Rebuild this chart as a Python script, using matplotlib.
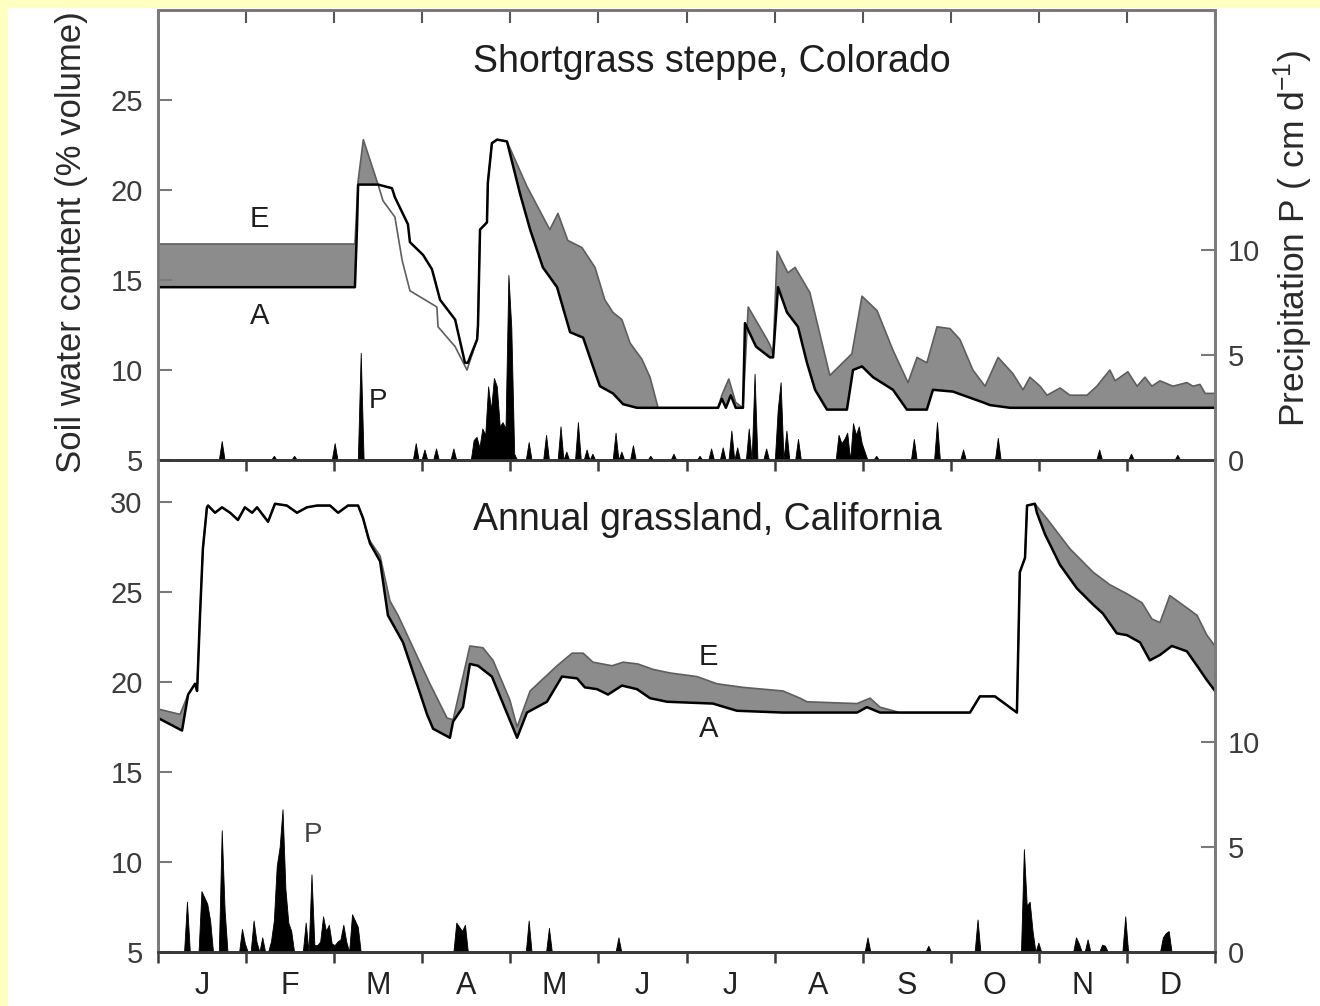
import numpy as np
import matplotlib
matplotlib.use("Agg")
import matplotlib.pyplot as plt
from matplotlib.patches import Rectangle

plt.rcParams['font.family'] = ['Liberation Sans', 'DejaVu Sans']
plt.rcParams['mathtext.default'] = 'regular'

months = ['J', 'F', 'M', 'A', 'M', 'J', 'J', 'A', 'S', 'O', 'N', 'D']

# Shortgrass steppe, Colorado -- soil water content (% volume), day of year
co_e_day = [0, 68.0, 69.1, 70.9, 76.0, 77.7, 81.8, 84.3, 87.0, 92.2, 96.3, 96.7, 102.6,
            106.7, 110.2, 110.5, 111.2, 113.6, 113.9, 115.3, 117.1, 120.5, 127.4, 135.3,
            138.1, 141.5, 146.4, 150.9, 154.3, 157.1, 160.2, 163.0, 167.1, 169.9, 172.7,
            193.4, 194.7, 197.1, 199.5, 202.0, 203.8, 210.3, 211.3, 212.4, 213.8, 217.5,
            220.0, 225.1, 232.0, 239.6, 243.1, 248.3, 253.8, 259.0, 262.1, 265.5, 269.0,
            273.5, 276.9, 281.4, 285.6, 290.1, 295.2, 298.7, 301.1, 304.6, 307.0, 311.5,
            314.9, 320.8, 324.2, 328.7, 330.5, 334.9, 338.1, 340.8, 343.2, 346.0, 350.5,
            355.3, 357.4, 359.8, 361.6, 365]
co_e = [17.0, 17.0, 20.5, 22.8, 20.3, 19.4, 18.5, 16.1, 14.4, 13.9, 13.5, 12.4, 11.3,
        10.0, 11.7, 12.5, 17.8, 18.2, 20.4, 22.6, 22.8, 22.7, 20.2, 17.8,
        18.7, 17.2, 16.8, 15.7, 13.9, 13.2, 12.8, 11.5, 10.6, 9.6, 7.9,
        7.9, 8.6, 9.5, 8.2, 7.9, 13.5, 11.7, 11.4, 10.9, 16.6, 15.4,
        15.7, 14.3, 9.7, 10.9, 14.1, 13.3, 11.1, 9.3, 10.7, 10.4, 12.4,
        12.3, 11.7, 10.0, 9.1, 10.7, 9.8, 8.9, 9.6, 9.1, 8.6, 9.0,
        8.6, 8.6, 9.1, 10.0, 9.4, 9.9, 9.1, 9.6, 9.1, 9.4, 9.1,
        9.3, 9.1, 9.2, 8.7, 8.7]

co_a_day = [0, 68.0, 68.7, 69.1, 76.0, 80.8, 81.8, 86.3, 87.0, 91.5, 94.6, 97.4, 102.6,
            104.3, 106.0, 107.0, 110.2, 110.5, 111.2, 113.6, 113.9, 115.3, 117.1, 120.5,
            125.0, 128.5, 132.9, 137.8, 142.3, 146.8, 150.2, 152.6, 157.1, 160.6, 165.4,
            193.4, 194.7, 196.1, 197.8, 199.5, 202.0, 202.7, 206.5, 211.3, 212.4, 214.1,
            217.2, 221.0, 224.1, 226.9, 231.0, 237.9, 240.0, 243.1, 246.9, 253.8, 258.6,
            265.5, 267.6, 274.5, 279.7, 284.9, 287.3, 294.2, 365]
co_a = [14.6, 14.6, 17.8, 20.3, 20.3, 20.1, 19.6, 18.1, 17.1, 16.4, 15.6, 13.9, 12.8,
        11.6, 10.4, 10.4, 11.7, 12.5, 17.8, 18.2, 20.4, 22.6, 22.8, 22.7,
        19.8, 17.8, 15.7, 14.6, 12.1, 11.8, 10.2, 9.1, 8.7, 8.1, 7.9,
        7.9, 8.4, 7.9, 8.6, 7.9, 7.9, 12.6, 11.3, 10.7, 10.7, 14.6,
        13.2, 12.4, 10.4, 8.9, 7.8, 7.8, 10.0, 10.2, 9.6, 8.9, 7.8,
        7.8, 8.9, 8.8, 8.5, 8.2, 8.05, 7.9, 7.9]

# daily precipitation (cm/d), Colorado
co_p_day = [22, 40, 47, 61, 70, 89, 92, 96, 102, 109, 110, 111, 112, 113, 114, 115, 116,
            117, 118, 119, 120, 121, 122, 123, 128, 134, 139, 141, 145, 148, 150, 158, 160,
            164, 170, 178, 187, 191, 195, 198, 200, 204, 206, 210, 214, 215, 217, 221, 235,
            236, 237, 238, 240, 241, 242, 243, 244, 248, 261, 269, 278, 290, 325, 336, 352]
co_p = [0.9, 0.2, 0.2, 0.8, 5.1, 0.8, 0.5, 0.55, 0.55, 0.95, 1.1, 0.6, 1.5, 1.2, 3.5, 2.4,
        3.9, 3.5, 1.6, 1.8, 1.5, 8.8, 6.3, 0.3, 0.85, 1.2, 1.6, 0.4, 1.8, 0.5, 0.3, 1.3, 0.4,
        0.7, 0.2, 0.3, 0.2, 0.55, 0.6, 1.4, 0.6, 1.5, 4.1, 0.55, 2.4, 3.7, 1.4, 1.0, 1.2,
        0.8, 1.0, 1.3, 1.75, 1.2, 1.6, 0.8, 0.4, 0.2, 1.0, 1.8, 0.5, 1.05, 0.5, 0.3, 0.25]

# Annual grassland, California
ca_e_day = [0, 7.6, 10.4, 12.8, 13.5, 14.5, 15.5, 16.9, 17.3, 19.7, 22.1, 24.9, 27.6,
            30.0, 32.5, 34.2, 38.0, 40.4, 44.5, 48.0, 51.4, 54.9, 59.4, 62.2, 65.6, 69.1,
            70.8, 72.5, 76.7, 80.1, 82.9, 93.9, 99.8, 101.9, 105.3, 107.7, 112.2, 115.7,
            121.5, 124.0, 128.5, 137.8, 143.0, 146.8, 150.2, 156.8, 160.6, 165.7, 170.9,
            176.8, 186.1, 193.0, 202.0, 215.8, 221.7, 224.1, 241.4, 245.9, 249.3, 256.2,
            280.4, 283.8, 289.0, 296.6, 297.6, 299.4, 300.1, 302.8, 307.3, 314.9, 322.9,
            328.7, 334.6, 339.8, 343.2, 346.0, 349.4, 356.3, 358.8, 362.2, 365]
ca_e = [18.5, 18.2, 19.3, 19.9, 19.5, 23.7, 27.4, 29.7, 29.8, 29.4, 29.7, 29.4, 29.0,
        29.7, 29.4, 29.7, 28.9, 29.9, 29.8, 29.4, 29.7, 29.8, 29.8, 29.4, 29.8, 29.8,
        29.1, 28.0, 27.0, 24.5, 23.7, 19.9, 18.0, 17.9, 20.3, 22.0, 21.9, 21.2,
        19.0, 17.5, 19.5, 20.9, 21.6, 21.6, 21.1, 20.9, 21.1, 21.0, 20.7,
        20.5, 20.3, 19.9, 19.7, 19.5, 19.1, 18.9, 18.8, 19.1, 18.6, 18.3,
        18.3, 19.2, 19.2, 18.3, 26.1, 26.9, 29.8, 29.9, 29.0, 27.4, 26.1,
        25.4, 24.9, 24.4, 23.5, 23.3, 24.8, 24.0, 23.7, 22.6, 22.0]

ca_a_day = [0, 8.3, 10.4, 12.8, 13.5, 14.5, 15.5, 16.9, 17.3, 19.7, 22.1, 24.9, 27.6,
            30.0, 32.5, 34.2, 38.0, 40.4, 44.5, 48.0, 51.4, 54.9, 59.4, 62.2, 65.6, 69.1,
            70.8, 73.2, 76.7, 79.4, 84.6, 89.4, 92.9, 95.0, 100.8, 101.9, 105.3, 107.7,
            110.5, 115.3, 124.0, 127.4, 134.3, 139.5, 144.7, 147.4, 151.6, 155.4, 160.2,
            165.4, 169.9, 175.8, 191.6, 199.9, 215.8, 241.4, 244.8, 249.3, 280.4, 283.8,
            289.0, 296.6, 297.6, 299.4, 300.1, 302.8, 303.5, 306.3, 311.5, 317.3, 322.9,
            326.3, 331.1, 334.6, 339.1, 342.5, 346.0, 350.1, 355.3, 358.8, 362.2, 365]
ca_a = [18.0, 17.3, 19.3, 19.9, 19.5, 23.7, 27.4, 29.7, 29.8, 29.4, 29.7, 29.4, 29.0,
        29.7, 29.4, 29.7, 28.9, 29.9, 29.8, 29.4, 29.7, 29.8, 29.8, 29.4, 29.8, 29.8,
        29.1, 27.7, 26.7, 23.7, 22.2, 19.9, 18.2, 17.4, 16.9, 17.8, 18.6, 21.0,
        20.9, 20.3, 16.9, 18.3, 18.9, 20.3, 20.2, 19.7, 19.6, 19.3, 19.8,
        19.6, 19.1, 18.9, 18.8, 18.4, 18.3, 18.3, 18.6, 18.3, 18.3, 19.2,
        19.2, 18.3, 26.1, 26.9, 29.8, 29.9, 29.4, 28.2, 26.5, 25.2, 24.3,
        23.8, 22.7, 22.6, 22.2, 21.2, 21.5, 22.0, 21.7, 20.9, 20.1, 19.5]

# daily precipitation (cm/d), California
ca_p_day = [10, 15, 16, 17, 18, 22, 23, 29, 30, 33, 34, 36, 39, 40, 41, 42, 43, 44, 45, 46,
            51, 53, 54, 55, 56, 57, 58, 59, 60, 61, 62, 63, 64, 65, 67, 68, 69, 103, 104,
            105, 106, 128, 135, 159, 245, 266, 283, 299, 300, 301, 302, 304, 317, 318, 321,
            326, 327, 334, 347, 348, 349]
ca_p = [2.4, 2.9, 2.6, 2.3, 1.5, 5.8, 2.0, 1.1, 0.4, 1.5, 0.5, 0.7, 0.5, 1.5, 4.1, 5.0,
        6.8, 3.0, 1.4, 1.0, 1.4, 3.7, 0.33, 0.33, 0.5, 1.7, 1.0, 1.3, 0.4, 0.33, 0.5, 0.6,
        1.3, 0.5, 1.8, 1.5, 1.2, 1.4, 1.2, 1.0, 1.3, 1.5, 1.15, 0.7, 0.7, 0.3, 1.55, 4.9,
        2.2, 2.4, 1.0, 0.45, 0.7, 0.4, 0.6, 0.35, 0.3, 1.7, 0.7, 0.9, 1.0]

month_edges = np.linspace(0, 365, 13)
month_mid = (month_edges[:-1] + month_edges[1:]) / 2

spine_gray = '#7a7a7a'
fill_gray = '#8c8c8c'
tick_color = '#3c3c3c'


def daily(days, values):
    p = np.zeros(366)
    p[days] = values
    return p


def band(ax, e_day, e, a_day, a, lo, hi):
    # shaded polygon between the E and A curves for lo <= day <= hi
    e_day, e, a_day, a = map(np.asarray, (e_day, e, a_day, a))
    me = (e_day >= lo) & (e_day <= hi)
    ma = (a_day >= lo) & (a_day <= hi)
    xs = np.r_[e_day[me], a_day[ma][::-1]]
    ys = np.r_[e[me], a[ma][::-1]]
    ax.fill(xs, ys, color=fill_gray, lw=0, zorder=1)


def style_panel(ax, axr, yticks, rticks):
    ax.set_xlim(0, 365)
    ax.set_yticks(yticks)
    ax.tick_params(axis='y', direction='in', length=10, width=1.5, color=spine_gray,
                   labelsize=21, labelcolor=tick_color, pad=11)
    axr.set_yticks(rticks)
    axr.tick_params(axis='y', direction='in', length=10, width=1.5, color=spine_gray,
                    labelsize=21, labelcolor=tick_color, pad=9)
    for a in (ax, axr):
        for s in ('left', 'right', 'top'):
            a.spines[s].set_color(spine_gray)
            a.spines[s].set_linewidth(2)
        a.spines['bottom'].set_color('#3a3a3a')
        a.spines['bottom'].set_linewidth(2)
    ax.set_xticks(month_edges)
    ax.tick_params(axis='x', direction='out', length=8, width=1.8, color='#3a3a3a')


fig = plt.figure(figsize=(13.2, 10.06), dpi=100, facecolor='#FFFFBF')
# white page, leaving a thin yellow margin on the left and top
fig.patches.append(Rectangle((8 / 1320, 0), 1, 1 - 8 / 1006, transform=fig.transFigure,
                             facecolor='white', edgecolor='none', zorder=-10))

ax1 = fig.add_axes([158 / 1320, 546 / 1006, 1057 / 1320, 450 / 1006])
ax2 = fig.add_axes([158 / 1320, 54 / 1006, 1057 / 1320, 492 / 1006])
ax1r = ax1.twinx()
ax2r = ax2.twinx()
for a in (ax1, ax2, ax1r, ax2r):
    a.set_facecolor('none')

# top panel: Colorado
band(ax1, co_e_day, co_e, co_a_day, co_a, 0, 76.0)
band(ax1, co_e_day, co_e, co_a_day, co_a, 110.2, 365)
ax1.plot(co_e_day, co_e, color='#5e5e5e', lw=1.2, zorder=2)
ax1.plot(co_a_day, co_a, color='black', lw=1.8, zorder=3)
ax1.set_ylim(5, 30)
ax1r.fill_between(np.arange(366), 0, daily(co_p_day, co_p), color='black', lw=0.6,
                  edgecolor='black')
ax1r.set_ylim(0, 21.4)
style_panel(ax1, ax1r, [5, 10, 15, 20, 25], [0, 5, 10])
ax1.tick_params(axis='x', labelbottom=False)
top = ax1.secondary_xaxis('top')
top.set_xticks(month_edges)
top.tick_params(direction='in', length=9, width=1.5, color='#555555', labeltop=False)
top.spines['top'].set_color(spine_gray)
top.spines['top'].set_linewidth(2)

ax1.text(0.524, 0.884, 'Shortgrass steppe, Colorado', transform=ax1.transAxes,
         ha='center', va='center', fontsize=27, color='#1e1e1e')
ax1.text(35, 18.4, 'E', ha='center', va='center', fontsize=21, color='#1e1e1e')
ax1.text(35, 13.0, 'A', ha='center', va='center', fontsize=21, color='#1e1e1e')
ax1.text(76, 8.3, 'P', ha='center', va='center', fontsize=20, color='#1e1e1e')

# bottom panel: California
band(ax2, ca_e_day, ca_e, ca_a_day, ca_a, 0, 365)
ax2.plot(ca_e_day, ca_e, color='#5e5e5e', lw=1.2, zorder=2)
ax2.plot(ca_a_day, ca_a, color='black', lw=1.8, zorder=3)
ax2.set_ylim(5, 32.33)
ax2r.fill_between(np.arange(366), 0, daily(ca_p_day, ca_p), color='black', lw=0.6,
                  edgecolor='black')
ax2r.set_ylim(0, 23.43)
style_panel(ax2, ax2r, [5, 10, 15, 20, 25, 30], [0, 5, 10])
for a in (ax2, ax2r):
    a.spines['top'].set_visible(False)
ax2.set_xticklabels([])
ax2.set_xticks(month_mid, minor=True)
ax2.set_xticklabels(months, minor=True)
ax2.tick_params(axis='x', which='minor', length=0, pad=14, labelsize=22, labelcolor='#222222')

ax2.text(0.520, 0.878, 'Annual grassland, California', transform=ax2.transAxes,
         ha='center', va='center', fontsize=27, color='#1e1e1e')
ax2.text(190, 21.4, 'E', ha='center', va='center', fontsize=21, color='#1e1e1e')
ax2.text(190, 17.4, 'A', ha='center', va='center', fontsize=21, color='#1e1e1e')
ax2.text(53.5, 11.5, 'P', ha='center', va='center', fontsize=20, color='#444444')

fig.text(72 / 1320, 1 - 242 / 1006, 'Soil water content (% volume)', rotation=90,
         ha='center', va='center', fontsize=25, color='#2a2a2a')
fig.text(1293 / 1320, 1 - 238 / 1006, 'Precipitation P ( cm d$^{-1}$)', rotation=90,
         ha='center', va='center', fontsize=25.5, color='#2a2a2a')

fig.savefig('out.png', dpi=100, facecolor=fig.get_facecolor())
